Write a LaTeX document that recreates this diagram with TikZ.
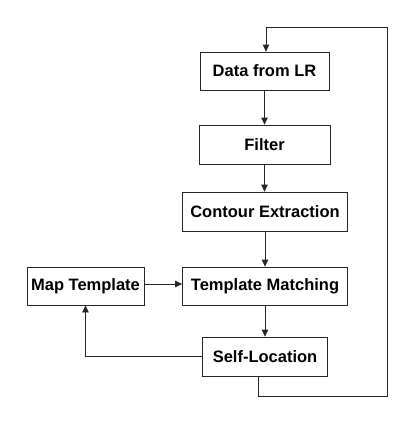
\documentclass[tikz,border=0pt]{standalone}
\usepackage{fontspec}
\setmainfont{Liberation Sans}
\usetikzlibrary{arrows.meta}
\begin{document}
\begin{tikzpicture}[x=1pt,y=-1pt,
  box/.style={draw=black!85,line width=0.8pt,minimum height=38pt,inner sep=0pt,
    font=\fontsize{16.5}{18}\selectfont\bfseries},
  conn/.style={draw=black!85,line width=0.8pt},
  arr/.style={conn,-{Triangle[length=7pt,width=6.5pt]}}]
\useasboundingbox (0,0) rectangle (408,423);
\node[box,minimum width=129pt] (data) at (264.5,71) {Data from LR};
\node[box,minimum width=131pt,minimum height=39pt] (filter) at (264.5,144.5) {Filter};
\node[box,minimum width=165pt,minimum height=39pt] (contour) at (265,211.5) {Contour Extraction};
\node[box,minimum width=165pt] (tm) at (265,286) {Template Matching};
\node[box,minimum width=117pt] (map) at (85.5,286) {Map Template};
\node[box,minimum width=125pt,minimum height=39pt] (self) at (265,356.5) {Self-Location};
\coordinate (c1) at (387,396);
\coordinate (c2) at (387,27);
\draw[arr] (data) -- (filter);
\draw[arr] (filter.south) -- (filter.south |- contour.north);
\draw[arr] (contour) -- (tm);
\draw[arr] (tm) -- (self);
\draw[arr] ([yshift=2pt]map.east) -- ([yshift=2pt]tm.west);
\draw[arr] (self.west) -| (map.south);
\draw[arr] ([xshift=-7pt]self.south) |- (c1) -- (c2) -| ([xshift=1.5pt]data.north);
\end{tikzpicture}
\end{document}
